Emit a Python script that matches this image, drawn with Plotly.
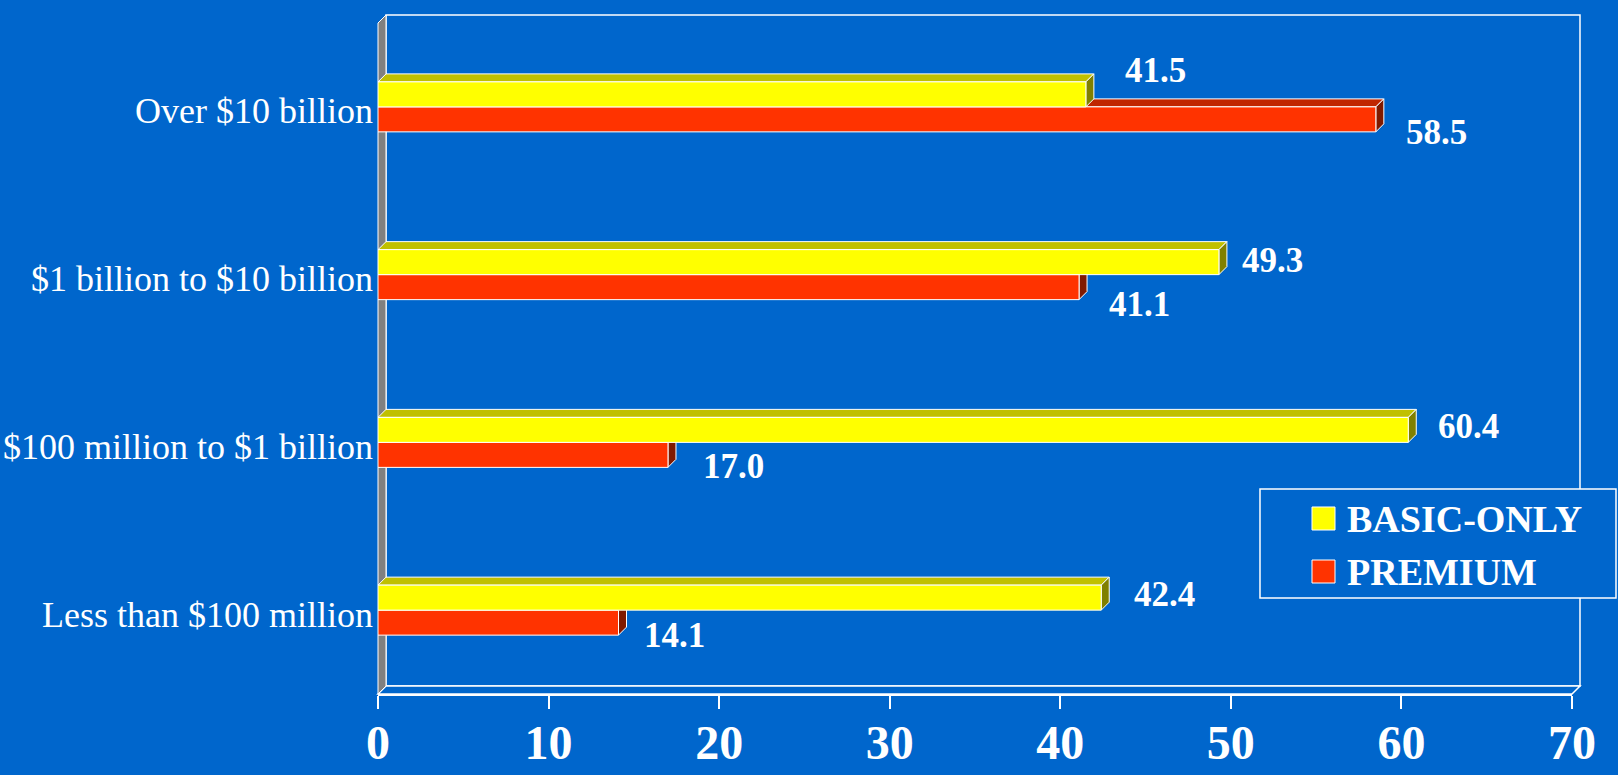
import plotly.graph_objects as go

# ---------------- data ----------------
categories = ["Less than $100 million", "$100 million to $1 billion",
              "$1 billion to $10 billion", "Over $10 billion"]
basic_only = [42.4, 60.4, 49.3, 41.5]
premium = [14.1, 17.0, 41.1, 58.5]
series_names = ["BASIC-ONLY", "PREMIUM"]
x_tick_values = [0, 10, 20, 30, 40, 50, 60, 70]
x_tick_labels = ["0", "10", "20", "30", "40", "50", "60", "70"]

# ---------------- geometry / style ----------------
W, H = 1618, 775
L, R, T, B = 378, 1572, 23, 694          # front plot box (px)
XMAX = 70
YMIN, YMAX = -0.5, 3.5
PX_X = (R - L) / XMAX
PX_Y = (B - T) / (YMAX - YMIN)
BAR_W = 25 / PX_Y                        # bar thickness in y units
DX, DY = 8 / PX_X, 8 / PX_Y              # 3D depth offset in data units
WALL = 8                                 # wall depth (px)

BG = "#0066CC"
YEL, YEL_TOP, YEL_SIDE = "#FFFF00", "#C0C000", "#808000"
RED, RED_TOP, RED_SIDE = "#FF3300", "#C02600", "#801A00"
WHITE = "#FFFFFF"
SERIF = "Liberation Serif, Times New Roman, serif"

# label nudges (px): (dx, dy) with dy positive = up
yellow_nudge = [(3, 3), (0, 3), (-7, 2), (9, 24)]
red_nudge = [(-5, -13), (5, -12), (0, -17), (0, -13)]
LABEL_XSHIFT = 28

ys = list(range(len(categories)))

fig = go.Figure()

# front faces of bars
fig.add_trace(go.Bar(
    y=ys, x=premium, orientation="h", name=series_names[1],
    width=BAR_W, offset=-BAR_W,
    marker=dict(color=RED, line=dict(color=WHITE, width=1)),
    showlegend=False, hoverinfo="x+name"))
fig.add_trace(go.Bar(
    y=ys, x=basic_only, orientation="h", name=series_names[0],
    width=BAR_W, offset=0,
    marker=dict(color=YEL, line=dict(color=WHITE, width=1)),
    showlegend=False, hoverinfo="x+name"))


def px_to_paper_x(px):
    return (px - L) / (R - L)


def px_to_paper_y(py):
    return (B - py) / (B - T)


def ppath(points):
    s = "M " + " L ".join(f"{px_to_paper_x(x):.5f},{px_to_paper_y(y):.5f}" for x, y in points)
    return s + " Z"


shapes = []
# back wall
shapes.append(dict(type="path", xref="paper", yref="paper", layer="below",
                   path=ppath([(L + WALL, T - WALL), (R + WALL, T - WALL),
                               (R + WALL, B - WALL), (L + WALL, B - WALL)]),
                   fillcolor=BG, line=dict(color=WHITE, width=1.5)))
# floor
shapes.append(dict(type="path", xref="paper", yref="paper", layer="below",
                   path=ppath([(L, B), (L + WALL, B - WALL), (R + WALL, B - WALL), (R, B)]),
                   fillcolor=BG, line=dict(color=WHITE, width=1.5)))
# left wall
shapes.append(dict(type="path", xref="paper", yref="paper", layer="below",
                   path=ppath([(L, T), (L + WALL, T - WALL), (L + WALL, B - WALL), (L, B)]),
                   fillcolor="#808080", line=dict(color=WHITE, width=1)))


def dpath(points):
    s = "M " + " L ".join(f"{x:.5f},{y:.5f}" for x, y in points)
    return s + " Z"


def faces(value, y0, y1, top_col, side_col):
    out = []
    out.append(dict(type="path", xref="x", yref="y", layer="below",
                    path=dpath([(0, y1), (DX, y1 + DY), (value + DX, y1 + DY), (value, y1)]),
                    fillcolor=top_col, line=dict(color=WHITE, width=1)))
    out.append(dict(type="path", xref="x", yref="y", layer="below",
                    path=dpath([(value, y0), (value, y1), (value + DX, y1 + DY), (value + DX, y0 + DY)]),
                    fillcolor=side_col, line=dict(color=WHITE, width=1)))
    return out


for i, v in zip(ys, premium):
    shapes += faces(v, i - BAR_W, i, RED_TOP, RED_SIDE)
for i, v in zip(ys, basic_only):
    shapes += faces(v, i, i + BAR_W, YEL_TOP, YEL_SIDE)

# legend box
LG_X0, LG_X1, LG_Y0, LG_Y1 = 1260, 1616, 489, 598
shapes.append(dict(type="path", xref="paper", yref="paper", layer="above",
                   path=ppath([(LG_X0, LG_Y0), (LG_X1, LG_Y0), (LG_X1, LG_Y1), (LG_X0, LG_Y1)]),
                   fillcolor=BG, line=dict(color=WHITE, width=1.5)))
legend_rows = [(518.5, YEL), (571.5, RED)]
for cy, col in legend_rows:
    shapes.append(dict(type="path", xref="paper", yref="paper", layer="above",
                       path=ppath([(1312, cy - 11.5), (1335, cy - 11.5), (1335, cy + 11.5), (1312, cy + 11.5)]),
                       fillcolor=col, line=dict(color=WHITE, width=1)))

annotations = []
for (cy, col), name in zip(legend_rows, series_names):
    annotations.append(dict(xref="paper", yref="paper", x=px_to_paper_x(1345), y=px_to_paper_y(cy),
                            xanchor="left", yanchor="middle", showarrow=False,
                            text=f"<b>{name}</b>",
                            font=dict(family=SERIF, size=38, color=WHITE)))

# data labels
for i, v in zip(ys, basic_only):
    nx, ny = yellow_nudge[i]
    annotations.append(dict(xref="x", yref="y", x=v, y=i + BAR_W / 2,
                            xanchor="left", yanchor="middle", showarrow=False,
                            xshift=LABEL_XSHIFT + nx, yshift=ny,
                            text=f"<b>{v:.1f}</b>",
                            font=dict(family=SERIF, size=35, color=WHITE)))
for i, v in zip(ys, premium):
    nx, ny = red_nudge[i]
    annotations.append(dict(xref="x", yref="y", x=v, y=i - BAR_W / 2,
                            xanchor="left", yanchor="middle", showarrow=False,
                            xshift=LABEL_XSHIFT + nx, yshift=ny,
                            text=f"<b>{v:.1f}</b>",
                            font=dict(family=SERIF, size=35, color=WHITE)))

fig.update_layout(
    width=W, height=H,
    margin=dict(l=L, r=W - R, t=T, b=H - B, pad=0, autoexpand=False),
    paper_bgcolor=BG, plot_bgcolor="rgba(0,0,0,0)",
    barmode="overlay",
    shapes=shapes, annotations=annotations,
    showlegend=False,
    xaxis=dict(range=[0, XMAX], tickvals=x_tick_values, ticktext=x_tick_labels,
               showgrid=False, zeroline=False, showline=True, linecolor=WHITE, linewidth=2,
               ticks="outside", ticklen=13, tickwidth=2, tickcolor=WHITE,
               tickfont=dict(family=SERIF, size=48, color=WHITE, weight="bold"),
               ticklabelstandoff=-8,
               automargin=False, fixedrange=True),
    yaxis=dict(range=[YMIN, YMAX], tickvals=ys, ticktext=categories,
               showgrid=False, zeroline=False, showline=False, ticks="",
               tickfont=dict(family=SERIF, size=36, color=WHITE),
               ticklabelstandoff=4, ticklabelshift=4,
               automargin=False, fixedrange=True),
)

fig.write_html("out.html")
